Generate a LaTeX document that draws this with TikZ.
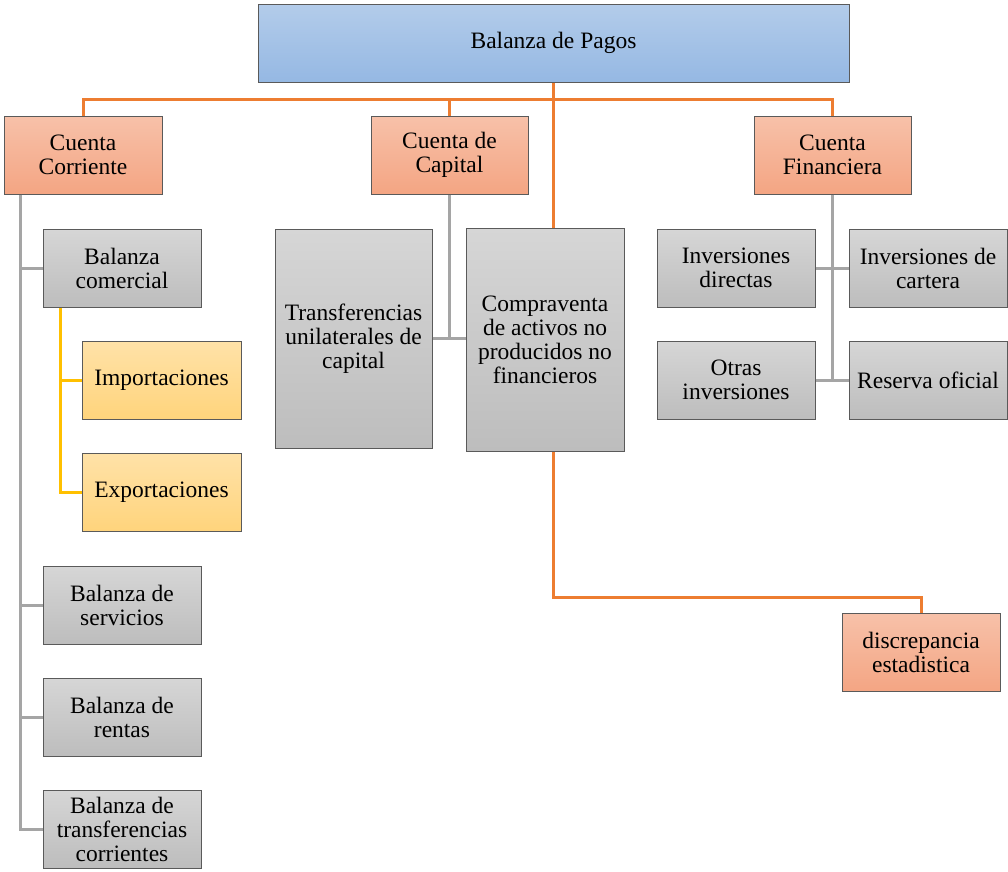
\documentclass[tikz,border=0pt]{standalone}
\usepackage{fontspec}
\setmainfont{Liberation Serif}
\newfontfamily\tnrfont{Liberation Serif}
\definecolor{bluetop}{HTML}{B3CCEA}
\definecolor{bluebot}{HTML}{95B8E3}
\definecolor{salmtop}{HTML}{F7C1A9}
\definecolor{salmbot}{HTML}{F4A583}
\definecolor{graytop}{HTML}{D6D6D6}
\definecolor{graybot}{HTML}{BDBDBD}
\definecolor{yeltop}{HTML}{FFE2A8}
\definecolor{yelbot}{HTML}{FFD47C}
\definecolor{orangeln}{HTML}{ED7D31}
\definecolor{grayln}{HTML}{A5A5A5}
\definecolor{yellowln}{HTML}{FFC000}
\definecolor{boxborder}{HTML}{5A5A5A}
\begin{document}
\begin{tikzpicture}[x=1pt,y=-1pt,
  box/.style={draw=boxborder, line width=1pt, minimum width=158pt, minimum height=78pt,
    inner sep=0pt, align=center, text=black, font=\tnrfont\fontsize{23.5}{24}\selectfont},
  bluebox/.style={box, top color=bluetop, bottom color=bluebot},
  salmbox/.style={box, top color=salmtop, bottom color=salmbot},
  graybox/.style={box, top color=graytop, bottom color=graybot},
  yelbox/.style={box, top color=yeltop, bottom color=yelbot},
  oline/.style={draw=orangeln, line width=3pt},
  gline/.style={draw=grayln, line width=3pt},
  yline/.style={draw=yellowln, line width=3pt}]
\useasboundingbox (0,0) rectangle (1008,871);

\coordinate (bus) at (553,99);
\coordinate (spine) at (20,0);
\coordinate (yspine) at (60,0);
\coordinate (discbus) at (553,597);

% nodes
\node[bluebox, minimum width=591pt] (bp) at (553.5,43) {Balanza de Pagos};
\node[salmbox] (cc) at (83,155) {Cuenta\\Corriente};
\node[salmbox, minimum width=157pt] (cap) at (449.5,155) {Cuenta de\\Capital};
\node[salmbox, minimum width=157pt] (fin) at (832.5,155) {Cuenta\\Financiera};

\node[graybox] (bc) at (122,268) {Balanza\\comercial};
\node[yelbox, minimum width=159pt] (imp) at (161.5,380) {Importaciones};
\node[yelbox, minimum width=159pt] (exp) at (161.5,492) {Exportaciones};
\node[graybox] (bs) at (122,605) {Balanza de\\servicios};
\node[graybox] (br) at (122,717) {Balanza de\\rentas};
\node[graybox] (bt) at (122,829) {Balanza de\\transferencias\\corrientes};

\node[graybox, minimum width=157pt, minimum height=219pt] (tr) at (353.5,338.5) {Transferencias\\unilaterales de\\capital};
\node[graybox, minimum height=223pt] (comp) at (545,339.5) {Compraventa\\de activos no\\producidos no\\financieros};

\node[graybox] (id) at (736,268) {Inversiones\\directas};
\node[graybox] (ic) at (928,268) {Inversiones de\\cartera};
\node[graybox] (oi) at (736,380) {Otras\\inversiones};
\node[graybox] (ro) at (928,380) {Reserva oficial};

\node[salmbox] (disc) at (921,652.5) {discrepancia\\estadistica};

% orange connectors
\draw[oline] (bp.south -| bus) -- (bus);
\draw[oline] (cc.north) |- (bus) -| (fin.north);
\draw[oline] (cap.north) -- (cap.north |- bus);
\draw[oline] (bus) -- (bus |- comp.north);
\draw[oline] (bus |- comp.south) -- (discbus) -| (disc.north);

% gray connectors: cuenta corriente
\draw[gline] (spine |- cc.south) -- (spine |- bt.west) -- (bt.west);
\draw[gline] (spine |- bc.west) -- (bc.west);
\draw[gline] (spine |- bs.west) -- (bs.west);
\draw[gline] (spine |- br.west) -- (br.west);

% yellow connectors
\draw[yline] (yspine |- bc.south) -- (yspine |- exp.west) -- (exp.west);
\draw[yline] (yspine |- imp.west) -- (imp.west);

% gray connectors: capital
\draw[gline] (cap.south) -- (cap.south |- tr.east);
\draw[gline] (tr.east) -- (comp.west |- tr.east);

% gray connectors: financiera
\draw[gline] (fin.south) -- (fin.south |- oi.east);
\draw[gline] (id.east) -- (ic.west);
\draw[gline] (oi.east) -- (ro.west);
\end{tikzpicture}
\end{document}
